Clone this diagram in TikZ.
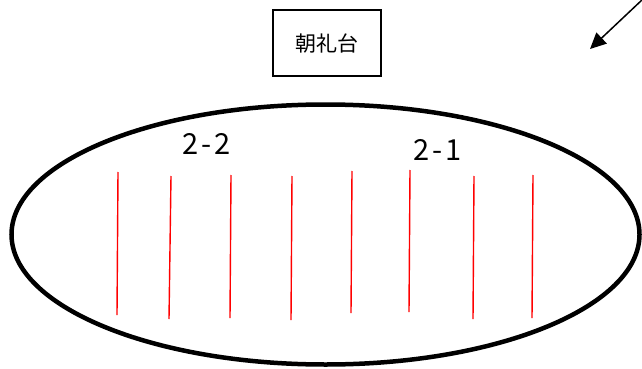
\documentclass[tikz,border=0pt]{standalone}
\usepackage{fontspec}
\setmainfont{Noto Sans CJK JP}
\usetikzlibrary{arrows.meta}
\begin{document}
\begin{tikzpicture}[x=1pt,y=-1pt,
  row/.style={draw=red,line width=1.4pt},
  lbl/.style={font=\fontsize{29}{29}\selectfont\addfontfeature{LetterSpace=10},inner sep=0pt},
  stage/.style={draw,line width=1.3pt,minimum width=108pt,minimum height=66pt,inner sep=0pt,font=\fontsize{21}{21}\selectfont}]
\useasboundingbox (0,0) rectangle (642,369);
\node[stage] (dai) at (327,43) {朝礼台};
\draw[line width=4.5pt] (325.5,234.5) ellipse [x radius=314, y radius=130];
\node[lbl] (l22) at (207,144) {2-2};
\node[lbl] (l21) at (438,150) {2-1};
\foreach \i/\xa/\ya/\xb/\yb in {1/118/172/117/315,2/171/176/169/319,3/231/175/230/318,4/292/176/291/320,5/352/171/351/313,6/410/170/409/312,7/474/176/473/319,8/533/175/532/318}{
  \coordinate (t\i) at (\xa,\ya);
  \coordinate (b\i) at (\xb,\yb);
  \draw[row] (t\i) -- (b\i);
}
\coordinate (as) at (643,-1);
\coordinate (ae) at (590,49);
\draw[line width=1.5pt,-{Triangle[length=16pt,width=15pt]}] (as) -- (ae);
\end{tikzpicture}
\end{document}
